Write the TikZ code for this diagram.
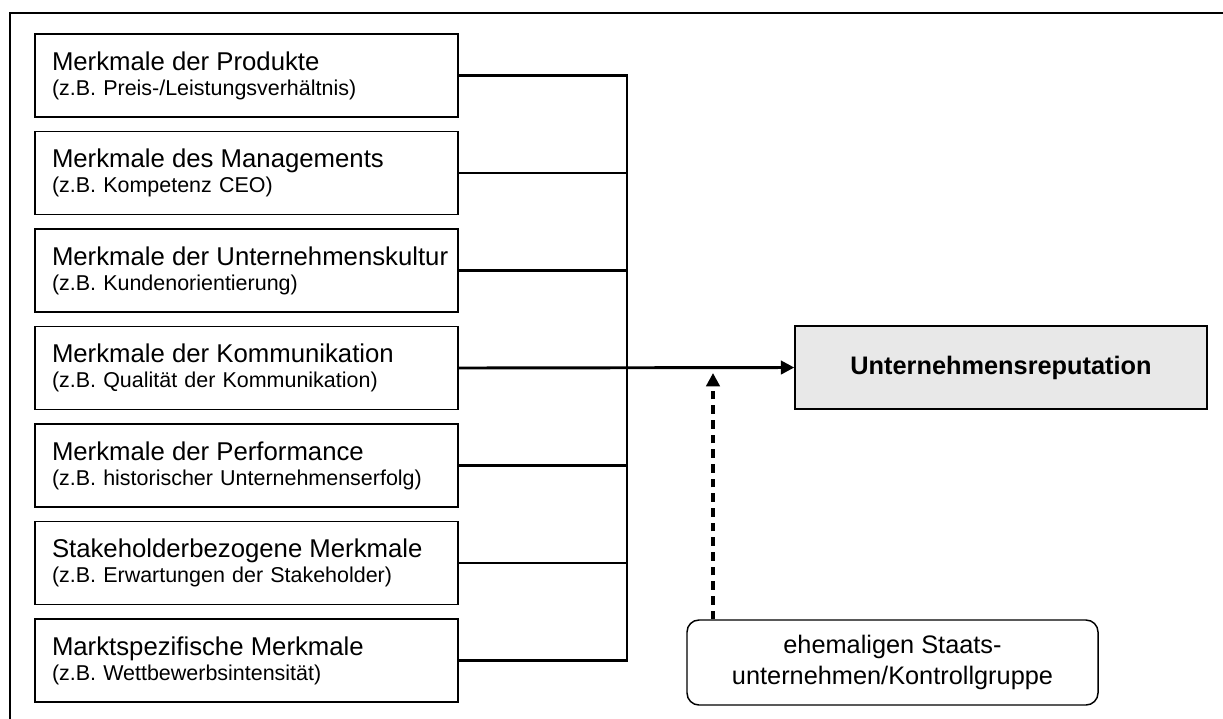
\documentclass[tikz,border=0pt]{standalone}
\usepackage{fontspec}
\setmainfont{Liberation Sans}
\usetikzlibrary{arrows.meta}

\definecolor{repfill}{HTML}{E8E8E8}

% two-line label: headline and example line
\newcommand\featuretext[2]{{\fontsize{19.3pt}{23pt}\selectfont\mbox{#1}}\\\mbox{#2}}

\tikzset{
  frame/.style={draw=black, line width=2pt},
  featurebox/.style={draw=black, line width=1.1pt, rectangle,
    minimum width=317.25pt, minimum height=62.25pt,
    text width=291.75pt, inner xsep=12.75pt, align=left,
    font=\fontsize{16.1pt}{18.75pt}\selectfont},
  repbox/.style={draw=black, line width=1.1pt, fill=repfill, rectangle,
    minimum width=309pt, minimum height=62.25pt,
    font=\fontsize{19pt}{23pt}\selectfont\bfseries},
  groupbox/.style={draw=black, line width=1.1pt, rectangle,
    rounded corners=9pt, minimum width=308.25pt, minimum height=63.75pt,
    align=center, font=\fontsize{19pt}{23.25pt}\selectfont},
  conn/.style={draw=black, line width=2.2pt},
  mainarrow/.style={conn, -{Triangle[length=10pt, width=10pt]}},
  ctrlarrow/.style={draw=black, line width=2.4pt, dash pattern=on 6.5pt off 4.5pt,
    -{Triangle[length=10pt, width=10pt]}},
}

\begin{document}
\begin{tikzpicture}[x=0.75pt, y=-0.75pt]
  \useasboundingbox (0,0) rectangle (1223,718);
  \fill[white] (0,0) rectangle (1223,718);

  % outer frame (runs past the right and bottom edges)
  \draw[frame] (10,13) rectangle (1240,735);

  % feature boxes
  \node[featurebox] (b1) at (246.5,75.5)
    {\featuretext{Merkmale der Produkte}{(z.B. Preis-/Leistungsverhältnis)}};
  \node[featurebox] (b2) at (246.5,173)
    {\featuretext{Merkmale des Managements}{(z.B. Kompetenz CEO)}};
  \node[featurebox] (b3) at (246.5,270.5)
    {\featuretext{Merkmale der Unternehmenskultur}{(z.B. Kundenorientierung)}};
  \node[featurebox] (b4) at (246.5,368)
    {\featuretext{Merkmale der Kommunikation}{(z.B. Qualität der Kommunikation)}};
  \node[featurebox] (b5) at (246.5,465.5)
    {\featuretext{Merkmale der Performance}{(z.B. historischer Unternehmenserfolg)}};
  \node[featurebox] (b6) at (246.5,563)
    {\featuretext{Stakeholderbezogene Merkmale}{(z.B. Erwartungen der Stakeholder)}};
  \node[featurebox] (b7) at (246.5,660.5)
    {\featuretext{Marktspezifische Merkmale}{(z.B. Wettbewerbsintensität)}};

  % outcome and control group
  \node[repbox] (rep) at (1001,367.5) {Unternehmensreputation};
  \node[groupbox] (ctrl) at (892.5,662.5)
    {ehemaligen Staats-\\unternehmen/Kontrollgruppe};

  % collecting bus
  \coordinate (bus) at (627,368);
  \coordinate (dashtip) at (713,373);

  \foreach \b in {b1,b2,b3,b5,b6,b7}
    \draw[conn] (\b.east) -- (\b.east -| bus);
  \draw[conn, line cap=rect] (b1.east -| bus) -- (b7.east -| bus);

  % main effect
  \draw[mainarrow] (b4.east) -- (rep.west);

  % moderating control group
  \draw[ctrlarrow] (ctrl.north west -| dashtip) -- (dashtip);
\end{tikzpicture}
\end{document}
